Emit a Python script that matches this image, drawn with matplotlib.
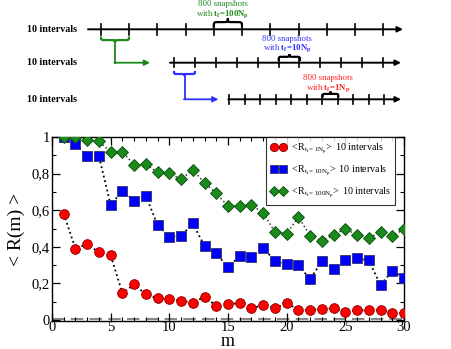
import matplotlib
matplotlib.use("Agg")
import matplotlib.pyplot as plt
import numpy as np
from matplotlib.path import Path
from matplotlib.patches import PathPatch
from matplotlib.ticker import MultipleLocator, FuncFormatter

plt.rcParams['font.family'] = ['Liberation Serif', 'DejaVu Serif']
plt.rcParams['mathtext.fontset'] = 'custom'
plt.rcParams['mathtext.rm'] = 'Liberation Serif'
plt.rcParams['mathtext.it'] = 'Liberation Serif'
plt.rcParams['mathtext.bf'] = 'Liberation Serif:bold'

# ---------------- data ----------------
m = list(range(1, 31))
r_1Np = [0.58, 0.39, 0.415, 0.37, 0.355, 0.146, 0.195, 0.14, 0.118, 0.113,
         0.106, 0.095, 0.127, 0.078, 0.089, 0.091, 0.064, 0.082, 0.064, 0.095,
         0.055, 0.056, 0.06, 0.064, 0.045, 0.053, 0.055, 0.055, 0.04, 0.038]
r_10Np = [1.0, 0.962, 0.896, 0.895, 0.628, 0.707, 0.652, 0.678, 0.519, 0.455,
          0.459, 0.528, 0.404, 0.364, 0.288, 0.35, 0.343, 0.395, 0.322, 0.304,
          0.299, 0.224, 0.321, 0.279, 0.328, 0.337, 0.326, 0.191, 0.269, 0.231]
r_100Np = [1.0, 0.998, 0.984, 0.976, 0.918, 0.92, 0.847, 0.85, 0.807, 0.801,
           0.769, 0.82, 0.75, 0.692, 0.623, 0.623, 0.627, 0.586, 0.481, 0.472,
           0.563, 0.461, 0.432, 0.466, 0.497, 0.466, 0.448, 0.481, 0.459, 0.496]
labels = [r"$<\!R_{t_f=1N_p}\!>$ 10 intervals",
          r"$<\!R_{t_f=10N_p}\!>$ 10 intervals",
          r"$<\!R_{t_f=100N_p}\!>$ 10 intervals"]
x_ticks = [0, 5, 10, 15, 20, 25, 30]
y_ticks = [0, 0.2, 0.4, 0.6, 0.8, 1.0]

W, H = 451, 349
fig = plt.figure(figsize=(W / 100, H / 100), dpi=100)

# ---------------- main plot ----------------
ax = fig.add_axes([52 / W, 1 - 321 / H, (404 - 52) / W, (321 - 137) / H])
ax.axhline(0.004, color='#888888', ls=(0, (6, 3)), lw=1.5, zorder=1)
ax.plot(m, r_1Np, ls=':', color='black', lw=1.3, marker='o', ms=7,
        mfc='#ff0000', mec='#880000', mew=0.6, label=labels[0], zorder=3)
ax.plot(m, r_10Np, ls=':', color='black', lw=1.3, marker='s', ms=6.5,
        mfc='#0000ff', mec='#333366', mew=0.6, label=labels[1], zorder=3)
ax.plot(m, r_100Np, ls=':', color='#333333', lw=1.1, marker='D', ms=6,
        mfc='#1a8a1a', mec='#0a4a0a', mew=0.6, label=labels[2], zorder=3)

ax.set_xlim(0, 30)
ax.set_ylim(-0.005, 1.0)
ax.set_xticks(x_ticks)
ax.set_yticks(y_ticks)
ax.xaxis.set_minor_locator(MultipleLocator(1))
ax.yaxis.set_minor_locator(MultipleLocator(0.1))
ax.yaxis.set_major_formatter(FuncFormatter(
    lambda v, p: '0' if abs(v) < 1e-9 else ('1' if abs(v - 1) < 1e-9 else ('%.1f' % v).replace('.', ','))))
ax.tick_params(which='both', direction='in', top=True, right=True, labelsize=10.5, pad=1.5)
ax.tick_params(axis='x', which='both', pad=0.0)
ax.tick_params(which='major', length=6, width=0.9)
ax.tick_params(which='minor', length=3, width=0.8)
for s in ax.spines.values():
    s.set_linewidth(1.0)
ax.set_xlabel('m', fontsize=13)
ax.xaxis.set_label_coords(0.5, -(345.5 - 321) / (321 - 137))
ax.xaxis.label.set_va('baseline')
ax.set_ylabel('< R(m) >', fontsize=14)
ax.yaxis.set_label_coords(-(52 - 16) / (404 - 52), 0.5)
ax.yaxis.label.set_va('center')

leg = ax.legend(loc='upper right', fontsize=7.2, frameon=True, fancybox=False,
                edgecolor='black', borderpad=0.45, labelspacing=0.75, numpoints=2,
                handlelength=1.5, handletextpad=0.4, borderaxespad=0.0,
                markerscale=0.85, bbox_to_anchor=(1 - 9 / 352, 1.0))
leg.get_frame().set_linewidth(0.8)

# ---------------- top schematic ----------------
ov = fig.add_axes([0, 0, 1, 1])
ov.set_xlim(0, W)
ov.set_ylim(H, 0)
ov.axis('off')


def brace(x0, x1, y, h, color, up=True):
    # curly brace; tips at y, middle point at y -/+ h
    s = -1 if up else 1
    xm = (x0 + x1) / 2
    yb = y + s * h * 0.6
    q = (x1 - x0) * 0.18
    verts = [(x0, y), (x0, yb), (x0, yb), (x0 + q, yb),
             (xm - q, yb),
             (xm, yb), (xm, yb), (xm, y + s * h),
             (xm, yb), (xm, yb), (xm + q, yb),
             (x1 - q, yb),
             (x1, yb), (x1, yb), (x1, y)]
    codes = [Path.MOVETO, Path.CURVE4, Path.CURVE4, Path.CURVE4,
             Path.LINETO,
             Path.CURVE4, Path.CURVE4, Path.CURVE4,
             Path.CURVE4, Path.CURVE4, Path.CURVE4,
             Path.LINETO,
             Path.CURVE4, Path.CURVE4, Path.CURVE4]
    ov.add_patch(PathPatch(Path(verts, codes), fc='none', ec=color, lw=1.6))


def timeline(y, x0, x1, tx0, dt, tl):
    ov.annotate('', xy=(x1 + 2, y), xytext=(x0, y),
                arrowprops=dict(arrowstyle='-|>', color='black', lw=1.4,
                                mutation_scale=8, shrinkA=0, shrinkB=0))
    for k in range(11):
        xx = tx0 + k * dt
        ov.plot([xx, xx], [y - tl, y + tl], color='black', lw=1.2)
    ov.text(27, y, '10 intervals', fontsize=7.2, fontweight='bold',
            ha='left', va='center')


def note(x, y, txt, color):
    ov.text(x, y, '800 snapshots', color=color, fontsize=6.3, ha='center', va='center')
    ov.text(x, y + 9.5, txt, color=color, fontsize=6.3, ha='center', va='center')


GREEN, BLUE, RED = '#1a8a1a', '#3030ff', '#ff2020'

# line 1
timeline(29.3, 88, 401, 100.7, 28.27, 5.5)
brace(213.7, 242, 27.5, 9, 'black', up=True)
note(223, 4.3, r'with $\mathbf{t_f\!=\!100N_p}$', GREEN)
brace(101, 129, 36.5, 6, GREEN, up=False)
ov.plot([115, 115], [42.5, 62.7], color=GREEN, lw=1.3)
ov.annotate('', xy=(150, 62.7), xytext=(114.4, 62.7),
            arrowprops=dict(arrowstyle='-|>', color=GREEN, lw=1.3,
                            mutation_scale=8, shrinkA=0, shrinkB=0))

# line 2
timeline(62.7, 170, 399, 173.7, 20.96, 4.5)
brace(278.7, 300, 61, 7, 'black', up=True)
note(287, 39.0, r'with $\mathbf{t_f\!=\!10N_p}$', BLUE)
brace(174, 195, 71, 5, BLUE, up=False)
ov.plot([184.5, 184.5], [76, 99.3], color=BLUE, lw=1.3)
ov.annotate('', xy=(218.5, 99.3), xytext=(183.9, 99.3),
            arrowprops=dict(arrowstyle='-|>', color=BLUE, lw=1.3,
                            mutation_scale=8, shrinkA=0, shrinkB=0))

# line 3
timeline(99.3, 228.3, 399, 229.3, 15.47, 4.5)
brace(322.7, 338.3, 97.5, 6, 'black', up=True)
note(328, 78.3, r'with $\mathbf{t_f\!=\!1N_p}$', RED)

fig.savefig('out.png', dpi=100)
